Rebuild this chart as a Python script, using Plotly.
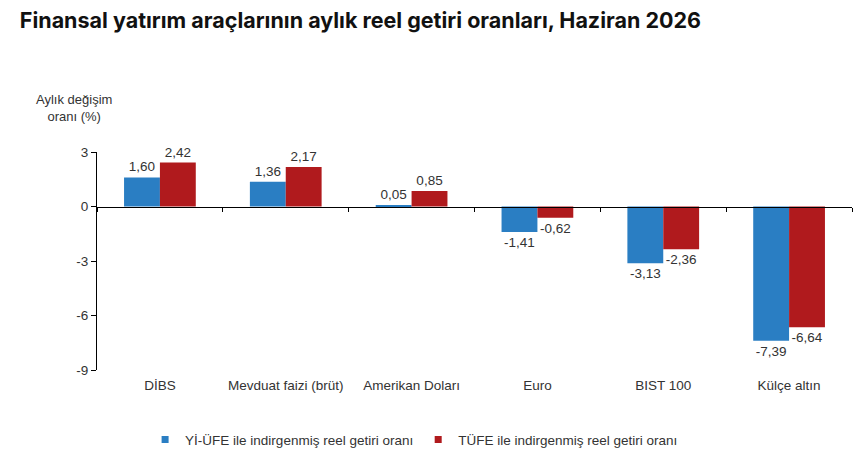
import plotly.graph_objects as go

categories = ["DİBS", "Mevduat faizi (brüt)", "Amerikan Doları", "Euro", "BIST 100", "Külçe altın"]
yiufe = [1.60, 1.36, 0.05, -1.41, -3.13, -7.39]
tufe = [2.42, 2.17, 0.85, -0.62, -2.36, -6.64]
series_names = ["Yİ-ÜFE ile indirgenmiş reel getiri oranı", "TÜFE ile indirgenmiş reel getiri oranı"]
y_ticks = [3, 0, -3, -6, -9]

blue = "#2A7EC3"
red = "#B01A1D"
txt = "#333333"
fnt = "Liberation Sans, Arial, sans-serif"

def fmt(v):
    return f"{v:.2f}".replace(".", ",")

fig = go.Figure()
for vals, col, name in [(yiufe, blue, series_names[0]), (tufe, red, series_names[1])]:
    fig.add_trace(go.Bar(
        x=categories, y=vals, marker=dict(color=col, line=dict(width=0)),
        text=[fmt(v) for v in vals], textposition="outside", cliponaxis=False,
        textfont=dict(family=fnt, size=13.5, color=txt), showlegend=False, name=name,
    ))
# legend markers
for col, name in [(blue, series_names[0]), (red, series_names[1])]:
    fig.add_trace(go.Scatter(x=[None], y=[None], mode="markers", name=name,
                             marker=dict(symbol="square", size=7, color=col)))

# axis through zero with boundary ticks
fig.add_trace(go.Bar(x=categories, y=[None]*len(categories), xaxis="x2", showlegend=False, hoverinfo="skip"))

fig.update_layout(
    width=862, height=463,
    margin=dict(l=97, r=10, t=152, b=93, autoexpand=False),
    paper_bgcolor="white", plot_bgcolor="white",
    barmode="group", bargap=0.43, bargroupgap=0,
    title=dict(text="<b>Finansal yatırım araçlarının aylık reel getiri oranları, Haziran 2026</b>",
               x=0.023, xanchor="left", y=0.955, yanchor="middle",
               font=dict(family="Inter, Roboto, sans-serif", size=21.5, color="#111111")),
    xaxis=dict(showline=False, ticks="", showgrid=False, zeroline=False,
               tickfont=dict(family=fnt, size=13.5, color=txt), ticklabelstandoff=5),
    xaxis2=dict(overlaying="x", anchor="free", position=0.75, side="bottom",
                showline=True, linecolor="#000000", linewidth=1.2,
                ticks="outside", ticklen=4, tickcolor="#000000", tickson="boundaries",
                showticklabels=False, showgrid=False, zeroline=False, matches="x"),
    yaxis=dict(range=[-9, 3], tickvals=y_ticks, ticktext=[str(v) for v in y_ticks],
               showline=True, linecolor="#000000", linewidth=1,
               ticks="outside", ticklen=5, tickcolor="#000000",
               showgrid=False, zeroline=False,
               tickfont=dict(family=fnt, size=13.5, color=txt)),
    legend=dict(orientation="h", x=0.42, xanchor="center", y=-0.32, yanchor="middle",
                font=dict(family=fnt, size=13.5, color=txt), itemwidth=30,
                tracegroupgap=0),
    annotations=[dict(text="Aylık değişim<br>oranı (%)", xref="paper", yref="paper",
                      x=-0.03, y=1.2, xanchor="center", yanchor="middle", showarrow=False,
                      font=dict(family=fnt, size=13, color=txt))],
)

fig.write_html("out.html")
